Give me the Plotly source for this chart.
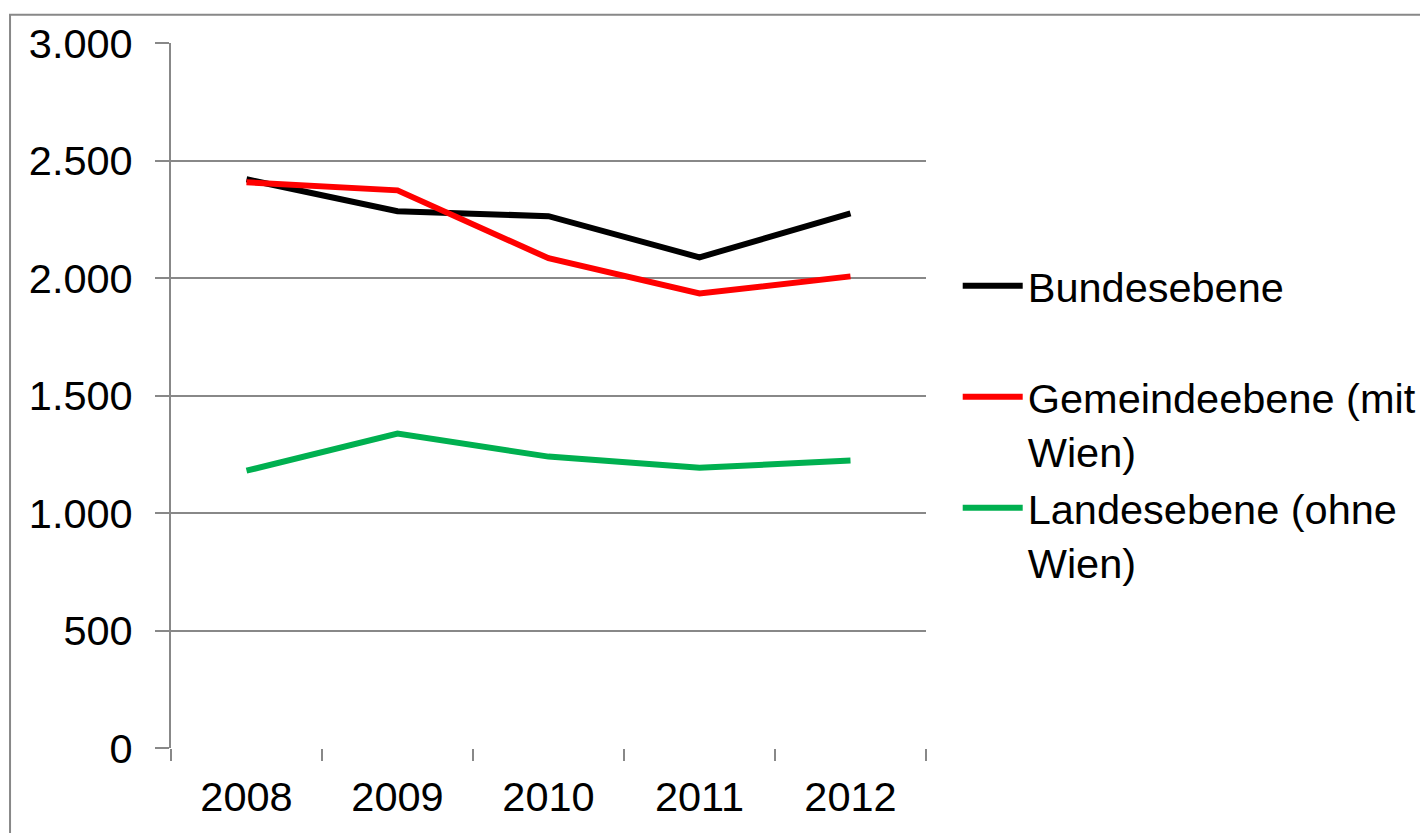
import plotly.graph_objects as go

years = ["2008", "2009", "2010", "2011", "2012"]
bund = [2420, 2284, 2263, 2088, 2275]
gemeinde = [2407, 2373, 2084, 1934, 2007]
landes = [1180, 1338, 1240, 1193, 1223]

names = ["Bundesebene<br> ", "Gemeindeebene (mit<br>Wien)", "Landesebene (ohne<br>Wien)"]
colors = ["#000000", "#FF0000", "#00B050"]
series = [bund, gemeinde, landes]

fig = go.Figure()
for n, c, s in zip(names, colors, series):
    fig.add_trace(go.Scatter(x=years, y=s, name=n, mode="lines",
                             line=dict(color=c, width=6)))

font = dict(family="Liberation Sans, Arial, sans-serif", size=41.5, color="#000000")

fig.update_layout(
    width=1428, height=833,
    margin=dict(l=163, r=510, t=35, b=93, autoexpand=False),
    paper_bgcolor="white", plot_bgcolor="white",
    separators=",.",
    font=font,
    showlegend=True,
    legend=dict(x=1.042, y=0.703, xanchor="left", yanchor="top",
                valign="top", font=font, tracegroupgap=6,
                itemwidth=60, bgcolor="rgba(0,0,0,0)"),
    xaxis=dict(type="category", range=[-0.5, 4.5], tickson="boundaries",
               ticks="outside", automargin=False,
               ticklen=12, tickwidth=2, tickcolor="#888888",
               showgrid=False, showline=False, zeroline=False,
               tickfont=font, ticklabelstandoff=20),
    yaxis=dict(range=[0, 3000], dtick=500, tick0=0, tickformat=",d",
               ticks="outside", ticklen=14, tickwidth=2, tickcolor="#888888",
               showgrid=True, gridcolor="#888888", gridwidth=2,
               showline=True, linecolor="#888888", linewidth=2, automargin=False,
               zeroline=False, tickfont=font, ticklabelstandoff=14),
    shapes=[dict(type="rect", xref="paper", yref="paper",
                 x0=-0.2132, x1=1.8, y0=-0.3, y1=1.040,
                 line=dict(color="#888888", width=2), layer="below")],
)

fig.write_html("out.html")
